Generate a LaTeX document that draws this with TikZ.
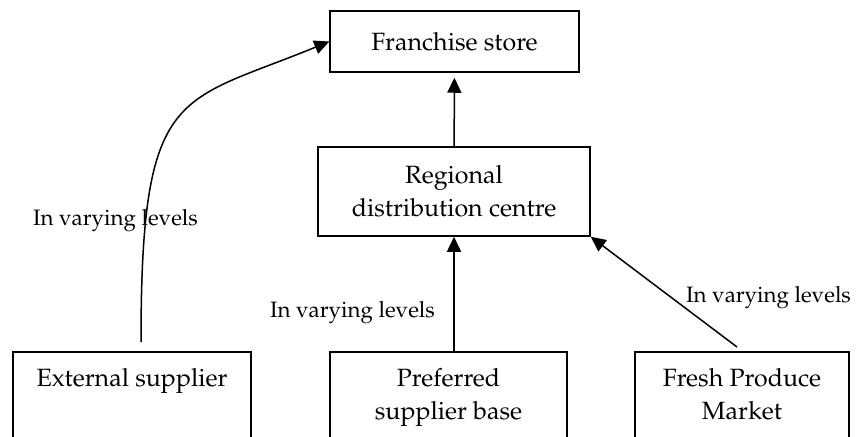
\documentclass[tikz,border=0pt]{standalone}
\usepackage[T1]{fontenc}
\usepackage{mathpazo}
\usetikzlibrary{arrows.meta,positioning,calc}
\tikzset{
  st/.style={draw=black,line width=1.5pt,inner sep=0pt,align=center,font=\fontsize{25}{33}\selectfont},
  lbl/.style={st,draw=none,anchor=north},
  ev/.style={font=\fontsize{22.3}{30}\selectfont,inner sep=0pt,anchor=base},
  fl/.style={-{Triangle[length=15pt,width=14pt]},line width=1.5pt},
}
\begin{document}
\begin{tikzpicture}[x=1pt,y=-1pt]
\useasboundingbox (0,0) rectangle (858,436);

\node[st,minimum width=249pt,minimum height=61pt] (fs) at (454.5,41.5) {Franchise store};
\node[st,minimum width=272pt,minimum height=89pt] (rdc) at (454,191.5) {Regional\\ distribution centre};
\node[st,minimum width=238pt,minimum height=100pt,anchor=north] (ext) at (132,351) {};
\node[st,minimum width=237pt,minimum height=100pt,anchor=north] (psb) at (448.5,351) {};
\node[st,minimum width=214pt,minimum height=100pt,anchor=north] (fpm) at (742,351) {};
\node[lbl] (extt) at ([yshift=-17pt]ext.north) {External supplier};
\node[lbl] (psbt) at ([yshift=-17pt]psb.north) {Preferred\\ supplier base};
\node[lbl] (fpmt) at ([yshift=-17pt]fpm.north) {Fresh Produce\\ Market};

\node[ev] (lv1) at (115.5,225) {In varying levels};
\node[ev] (lv2) at (352.5,317) {In varying levels};
\node[ev] (lv3) at (768.5,302) {In varying levels};

\coordinate (extout) at ([xshift=9pt,yshift=9pt]ext.north);
\draw[fl] (extout) .. controls +(0,-257) and +(-152,62.5) .. (fs.west);
\draw[fl] (rdc.south |- psb.north) -- (rdc.south);
\draw[fl] ([xshift=-5pt,yshift=4pt]fpm.north) -- (rdc.south east);
\draw[fl,shorten >=5pt] (rdc) -- (fs);
\end{tikzpicture}
\end{document}
